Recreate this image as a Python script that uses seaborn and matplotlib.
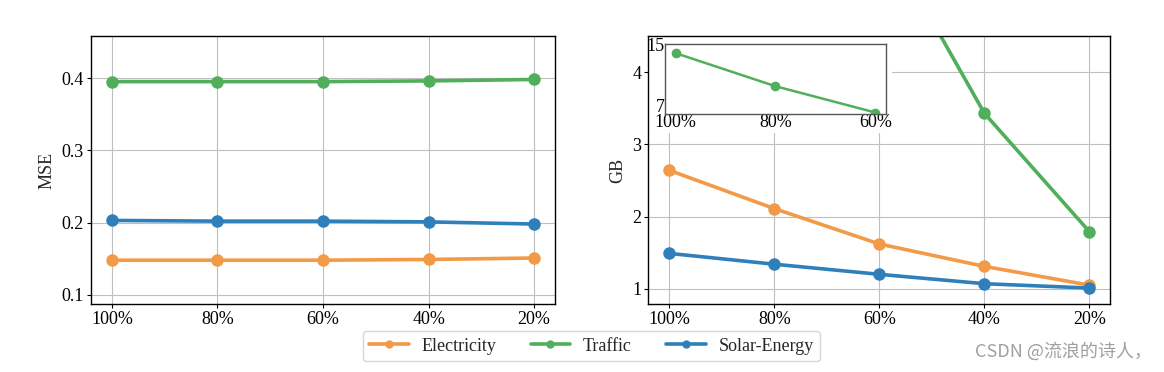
import numpy as np
import pandas as pd
import matplotlib
matplotlib.use('Agg')
import matplotlib.pyplot as plt
from matplotlib.patches import Rectangle
import seaborn as sns

ratios = ['100%', '80%', '60%', '40%', '20%']
datasets = ['Electricity', 'Traffic', 'Solar-Energy']

mse_electricity = [0.148, 0.148, 0.148, 0.149, 0.151]
mse_traffic = [0.395, 0.395, 0.395, 0.396, 0.398]
mse_solar = [0.203, 0.202, 0.202, 0.201, 0.198]

gb_electricity = [2.64, 2.11, 1.62, 1.31, 1.05]
gb_traffic = [13.9, 9.5, 6.0, 3.43, 1.79]
gb_solar = [1.49, 1.34, 1.20, 1.07, 1.01]

colors = ['#F39A48', '#4FAF5A', '#2F7FBB']

sns.set_style('whitegrid', {
    'axes.edgecolor': 'black',
    'grid.color': '#bfbfbf',
    'xtick.bottom': True,
    'ytick.left': True,
})
plt.rcParams['font.family'] = ['Liberation Serif', 'DejaVu Serif']
plt.rcParams['font.size'] = 12
plt.rcParams['xtick.major.size'] = 3
plt.rcParams['ytick.major.size'] = 3
plt.rcParams['xtick.color'] = 'black'
plt.rcParams['ytick.color'] = 'black'

x = np.arange(len(ratios))


def long_df(a, b, c):
    return pd.DataFrame({
        'x': np.concatenate([x, x, x]),
        'value': a + b + c,
        'dataset': [datasets[0]] * 5 + [datasets[1]] * 5 + [datasets[2]] * 5,
    })


mse_df = long_df(mse_electricity, mse_traffic, mse_solar)
gb_df = long_df(gb_electricity, gb_traffic, gb_solar)

fig = plt.figure(figsize=(11.64, 3.72), dpi=100)
ax1 = fig.add_axes([0.078, 0.183, 0.399, 0.720])
ax2 = fig.add_axes([0.557, 0.183, 0.397, 0.720])

for ax, df in [(ax1, mse_df), (ax2, gb_df)]:
    sns.lineplot(data=df, x='x', y='value', hue='dataset', palette=colors,
                 marker='o', markersize=9, markeredgewidth=0, linewidth=2.6,
                 ax=ax, legend=(ax is ax1))
    ax.set_xticks(x)
    ax.set_xticklabels(ratios, fontsize=13)
    ax.set_xlim(-0.2, 4.2)
    ax.set_xlabel('')
    ax.tick_params(labelsize=13, pad=2)
    for s in ax.spines.values():
        s.set_linewidth(1.0)

ax1.set_ylim(0.0875, 0.458)
ax1.set_yticks([0.1, 0.2, 0.3, 0.4])
ax1.set_ylabel('MSE', fontsize=13)

ax2.set_ylim(0.79, 4.5)
ax2.set_yticks([1, 2, 3, 4])
ax2.set_ylabel('GB', fontsize=13)

# white patch that hides the grid behind the inset
ax2.add_patch(Rectangle((0, 0.638), 0.528, 0.362, transform=ax2.transAxes,
                        facecolor='white', edgecolor='none', zorder=1))

ins = ax2.inset_axes([0.035, 0.709, 0.48, 0.261])
sns.lineplot(x=x[:3], y=gb_traffic[:3], color=colors[1], marker='o',
             markersize=7, markeredgewidth=0, linewidth=1.8, ax=ins)
ins.set_xlim(-0.11, 2.11)
ins.set_ylim(5.8, 15.1)
ins.set_xticks(x[:3])
ins.set_xticklabels(ratios[:3])
ins.set_yticks([7, 15])
ins.grid(False)
ins.tick_params(labelsize=13, length=0, pad=0)
for s in ins.spines.values():
    s.set_edgecolor('#555555')
    s.set_linewidth(1.0)

handles, labels = ax1.get_legend_handles_labels()
ax1.get_legend().remove()
leg = fig.legend(handles, labels, loc='lower center', ncol=3,
                 bbox_to_anchor=(0.508, 0.005), fontsize=13, frameon=True,
                 handlelength=2.2, columnspacing=1.9, borderpad=0.35,
                 handletextpad=0.7)
for h in leg.legend_handles:
    h.set_markersize(6)

fig.text(0.99, 0.055, 'CSDN @流浪的诗人，', ha='right', va='center',
         fontsize=13, color='#a0a0a0',
         family=['Noto Sans CJK SC', 'DejaVu Sans'])

plt.savefig('out.png', dpi=100)
